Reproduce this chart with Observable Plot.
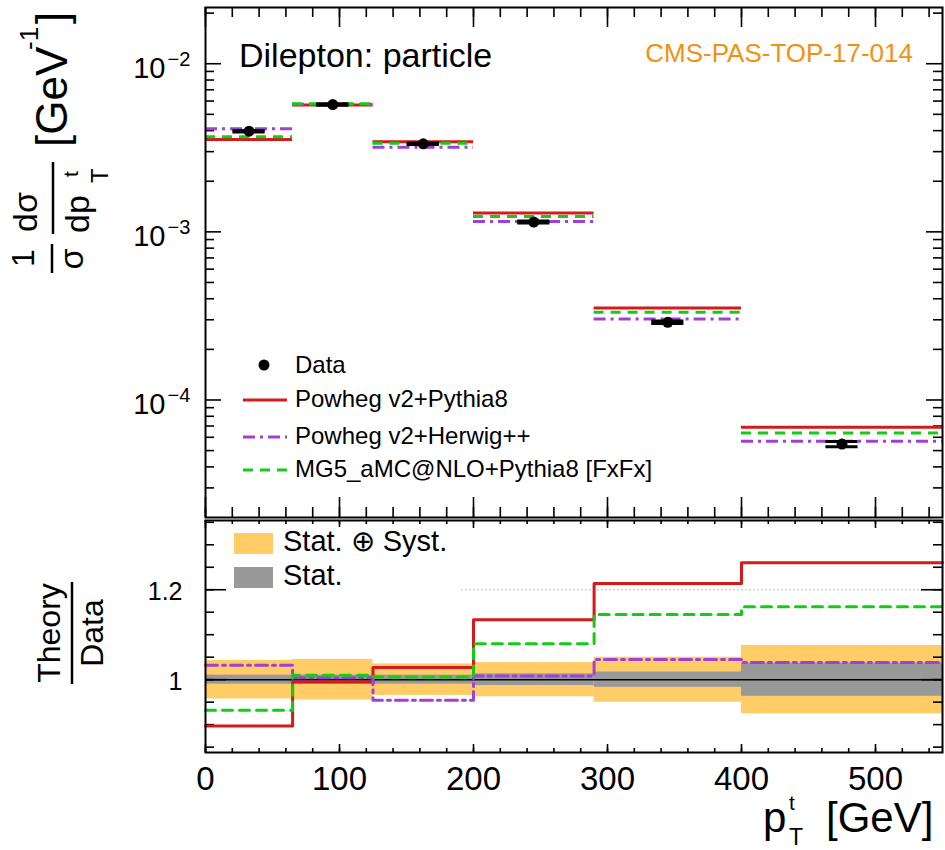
<!DOCTYPE html>
<html>
<head>
<meta charset="utf-8">
<script src="https://cdn.jsdelivr.net/npm/d3@7"></script>
<script src="https://cdn.jsdelivr.net/npm/@observablehq/plot@0.6"></script>
<style>
  html, body { margin: 0; padding: 0; background: white; }
  #wrap { position: relative; width: 945px; height: 850px; overflow: hidden; font-family: "Liberation Sans", Arial, Helvetica, sans-serif; }
  #upper, #lower, #overlay { position: absolute; left: 0; }
  #upper { top: 0; }
  #lower { top: 515px; }
  #overlay { top: 0; pointer-events: none; }
</style>
</head>
<body>
<div id="wrap">
  <div id="upper"></div>
  <div id="lower"></div>
  <svg id="overlay" width="945" height="850"></svg>
</div>
<script>
// ---------- data ----------
const binEdges = [0, 65, 125, 200, 290, 400, 550];
const dataValues     = [3.97e-3, 5.72e-3, 3.34e-3, 1.144e-3, 2.90e-4, 5.47e-5];
const powhegPythia8  = [3.54e-3, 5.69e-3, 3.43e-3, 1.296e-3, 3.52e-4, 6.89e-5];
const powhegHerwig   = [4.10e-3, 5.75e-3, 3.19e-3, 1.153e-3, 3.03e-4, 5.68e-5];
const mg5Pythia8     = [3.68e-3, 5.78e-3, 3.36e-3, 1.236e-3, 3.32e-4, 6.36e-5];
const ratioPowhegPythia8 = [0.897, 0.995, 1.027, 1.133, 1.214, 1.260];
const ratioPowhegHerwig  = [1.032, 1.004, 0.954, 1.008, 1.045, 1.038];
const ratioMg5Pythia8    = [0.932, 1.010, 1.006, 1.080, 1.145, 1.162];
const totalUnc = [0.043, 0.045, 0.035, 0.038, 0.050, 0.076];
const statUnc  = [0.010, 0.010, 0.010, 0.013, 0.017, 0.037];
const dataXErr = 12;

const xTickValues = [0, 100, 200, 300, 400, 500];
const xTickLabels = ["0", "100", "200", "300", "400", "500"];
const xMinorTicks = d3.range(0, 551, 20);
const yDecades = [1e-2, 1e-3, 1e-4];
const yDecadeExps = ["\u22122", "\u22123", "\u22124"];
const ratioTickValues = [1, 1.2];
const ratioTickLabels = ["1", "1.2"];
const ratioMinorTicks = d3.range(0.85, 1.351, 0.05);

// ---------- styles ----------
const RED = "#d41a1a", PURPLE = "#a040d8", GREEN = "#14cc14";
const ORANGE = "#ffcc66", GRAY = "#999999", CMSORANGE = "#f29111";
const DASH_GREEN = "10,7", DASH_PURPLE = "12,5,3,5";
const FONT = "'Liberation Sans', Arial, Helvetica, sans-serif";

const bins = dataValues.map((v, i) => ({
  lo: binEdges[i], hi: binEdges[i + 1], mid: (binEdges[i] + binEdges[i + 1]) / 2,
  data: v, pp: powhegPythia8[i], ph: powhegHerwig[i], mg: mg5Pythia8[i],
  tot: totalUnc[i], stat: statUnc[i]
}));
const stepPts = (vals) => binEdges.map((e, i) => ({x: e, y: vals[Math.min(i, vals.length - 1)]}));

const yMinor = [];
for (let p = -5; p <= -2; p++) for (let k = 2; k <= 9; k++) {
  const v = k * Math.pow(10, p);
  if (v > 2e-5 && v < 0.0216) yMinor.push(v);
}

// ---------- upper panel ----------
const W = 945;
const upInnerW = 737, upInnerH = 510;
const upper = Plot.plot({
  width: W, height: 520,
  marginLeft: 205, marginRight: 3, marginTop: 7, marginBottom: 3,
  x: {domain: [0, 550], axis: null},
  y: {type: "log", domain: [2e-5, 0.0216], axis: null},
  style: {fontFamily: FONT, background: "transparent", color: "black"},
  marks: [
    // ticks
    Plot.ruleX(xTickValues, {insetBottom: upInnerH - 20, stroke: "black", strokeWidth: 1.6}),
    Plot.ruleX(xTickValues, {insetTop: upInnerH - 20, stroke: "black", strokeWidth: 1.6}),
    Plot.ruleX(xMinorTicks, {insetBottom: upInnerH - 10, stroke: "black", strokeWidth: 1.6}),
    Plot.ruleX(xMinorTicks, {insetTop: upInnerH - 10, stroke: "black", strokeWidth: 1.6}),
    Plot.ruleY(yDecades, {insetRight: upInnerW - 16, stroke: "black", strokeWidth: 1.6}),
    Plot.ruleY(yDecades, {insetLeft: upInnerW - 16, stroke: "black", strokeWidth: 1.6}),
    Plot.ruleY(yMinor, {insetRight: upInnerW - 9, stroke: "black", strokeWidth: 1.6}),
    Plot.ruleY(yMinor, {insetLeft: upInnerW - 9, stroke: "black", strokeWidth: 1.6}),
    // tick labels
    Plot.text(yDecades, {y: d => d, frameAnchor: "left", text: () => "10", textAnchor: "end", dx: -40, dy: 5, fontSize: 29}),
    Plot.text(yDecades.map((d, i) => ({v: d, lab: yDecadeExps[i]})), {y: "v", frameAnchor: "left", text: "lab", textAnchor: "start", dx: -38, dy: -4, fontSize: 20}),
    // theory
    Plot.ruleY(bins, {y: "pp", x1: "lo", x2: "hi", stroke: RED, strokeWidth: 3}),
    Plot.ruleY(bins, {y: "ph", x1: "lo", x2: "hi", stroke: PURPLE, strokeWidth: 3, strokeDasharray: DASH_PURPLE}),
    Plot.ruleY(bins, {y: "mg", x1: "lo", x2: "hi", stroke: GREEN, strokeWidth: 3, strokeDasharray: DASH_GREEN}),
    // data
    Plot.ruleX(bins, {x: "mid", y1: d => d.data * (1 - d.stat), y2: d => d.data * (1 + d.stat), stroke: "black", strokeWidth: 2}),
    Plot.ruleY(bins, {y: d => d.data * (1 + d.stat), x1: d => d.mid - dataXErr, x2: d => d.mid + dataXErr, stroke: "black", strokeWidth: 3}),
    Plot.ruleY(bins, {y: d => d.data * (1 - d.stat), x1: d => d.mid - dataXErr, x2: d => d.mid + dataXErr, stroke: "black", strokeWidth: 3}),
    Plot.dot(bins, {x: "mid", y: "data", r: 5.5, fill: "black"}),
    Plot.frame({stroke: "black", strokeWidth: 2})
  ]
});
document.getElementById("upper").appendChild(upper);

// ---------- lower panel ----------
const loInnerW = 737, loInnerH = 232;
const lower = Plot.plot({
  width: W, height: 335,
  marginLeft: 205, marginRight: 3, marginTop: 5, marginBottom: 98,
  x: {domain: [0, 550], axis: null},
  y: {domain: [0.838, 1.354], axis: null},
  style: {fontFamily: FONT, background: "transparent", color: "black"},
  marks: [
    Plot.rect(bins, {x1: "lo", x2: "hi", y1: d => 1 - d.tot, y2: d => 1 + d.tot, fill: ORANGE}),
    Plot.rect(bins, {x1: "lo", x2: "hi", y1: d => 1 - d.stat, y2: d => 1 + d.stat, fill: GRAY}),
    Plot.ruleY([1], {stroke: "black", strokeWidth: 1.5}),
    Plot.ruleY([1.2], {stroke: "#c8c8c8", strokeWidth: 1.5, strokeDasharray: "1.5,2.5"}),
    // ticks
    Plot.ruleX(xTickValues, {insetBottom: loInnerH - 8, stroke: "black", strokeWidth: 1.6}),
    Plot.ruleX(xTickValues, {insetTop: loInnerH - 8, stroke: "black", strokeWidth: 1.6}),
    Plot.ruleX(xMinorTicks, {insetBottom: loInnerH - 4, stroke: "black", strokeWidth: 1.6}),
    Plot.ruleX(xMinorTicks, {insetTop: loInnerH - 4, stroke: "black", strokeWidth: 1.6}),
    Plot.ruleY(ratioTickValues, {insetRight: loInnerW - 21, stroke: "black", strokeWidth: 1.6}),
    Plot.ruleY(ratioTickValues, {insetLeft: loInnerW - 21, stroke: "black", strokeWidth: 1.6}),
    Plot.ruleY(ratioMinorTicks, {insetRight: loInnerW - 9, stroke: "black", strokeWidth: 1.6}),
    Plot.ruleY(ratioMinorTicks, {insetLeft: loInnerW - 9, stroke: "black", strokeWidth: 1.6}),
    // tick labels
    Plot.text(ratioTickValues.map((v, i) => ({v, lab: ratioTickLabels[i]})), {y: "v", frameAnchor: "left", text: "lab", textAnchor: "end", dx: -23, dy: 2, fontSize: 25}),
    Plot.text(xTickValues.map((v, i) => ({v, lab: xTickLabels[i]})), {x: "v", frameAnchor: "bottom", text: "lab", lineAnchor: "top", dy: 14, fontSize: 33}),
    // theory ratios
    Plot.line(stepPts(ratioPowhegPythia8), {x: "x", y: "y", curve: "step-after", stroke: RED, strokeWidth: 3}),
    Plot.line(stepPts(ratioPowhegHerwig), {x: "x", y: "y", curve: "step-after", stroke: PURPLE, strokeWidth: 3, strokeDasharray: DASH_PURPLE}),
    Plot.line(stepPts(ratioMg5Pythia8), {x: "x", y: "y", curve: "step-after", stroke: GREEN, strokeWidth: 3, strokeDasharray: DASH_GREEN}),
    Plot.frame({stroke: "black", strokeWidth: 2})
  ]
});
document.getElementById("lower").appendChild(lower);

// ---------- overlay: titles, legends, labels ----------
const ov = d3.select("#overlay").attr("font-family", FONT);

// Upper legend
const legItems = [
  {label: "Powheg v2+Pythia8", color: RED, dash: null, y: 400},
  {label: "Powheg v2+Herwig++", color: PURPLE, dash: DASH_PURPLE, y: 437},
  {label: "MG5_aMC@NLO+Pythia8 [FxFx]", color: GREEN, dash: DASH_GREEN, y: 470}
];
ov.append("circle").attr("cx", 264).attr("cy", 365).attr("r", 5.5).attr("fill", "black");
ov.append("text").attr("x", 295).attr("y", 373).attr("font-size", 24).text("Data");
legItems.forEach(it => {
  ov.append("line").attr("x1", 243).attr("x2", 287).attr("y1", it.y).attr("y2", it.y)
    .attr("stroke", it.color).attr("stroke-width", 3).attr("stroke-dasharray", it.dash);
  ov.append("text").attr("x", 295).attr("y", it.y + 7).attr("font-size", 24).text(it.label);
});

// Labels in the upper panel
ov.append("text").attr("x", 239).attr("y", 67).attr("font-size", 34).text("Dilepton: particle");
ov.append("text").attr("x", 913).attr("y", 62).attr("font-size", 26).attr("text-anchor", "end")
  .attr("fill", CMSORANGE).text("CMS-PAS-TOP-17-014");

// Lower legend
ov.append("rect").attr("x", 228).attr("y", 527).attr("width", 232).attr("height", 67).attr("fill", "white");
ov.append("rect").attr("x", 234).attr("y", 533).attr("width", 39).attr("height", 21).attr("fill", ORANGE);
ov.append("rect").attr("x", 234).attr("y", 567).attr("width", 39).attr("height", 21).attr("fill", GRAY);
ov.append("text").attr("x", 283).attr("y", 551).attr("font-size", 29).text("Stat. \u2295 Syst.");
ov.append("text").attr("x", 283).attr("y", 585).attr("font-size", 29).text("Stat.");

// X axis title
ov.append("text").attr("x", 763).attr("y", 832).attr("font-size", 42).text("p");
ov.append("text").attr("x", 789).attr("y", 810).attr("font-size", 21).text("t");
ov.append("text").attr("x", 789).attr("y", 845).attr("font-size", 23).text("T");
ov.append("text").attr("x", 826).attr("y", 832).attr("font-size", 42).text("[GeV]");

// Y axis title (upper), rotated: local (u, v) -> screen (v, 850 - u)
const gy = ov.append("g").attr("transform", "translate(0,850) rotate(-90)");
gy.append("text").attr("x", 592).attr("y", 34).attr("font-size", 32).attr("text-anchor", "middle").text("1");
gy.append("line").attr("x1", 577).attr("x2", 606).attr("y1", 52).attr("y2", 52).attr("stroke", "black").attr("stroke-width", 2.5);
gy.append("text").attr("x", 591).attr("y", 83).attr("font-size", 34).attr("text-anchor", "middle").text("\u03c3");
gy.append("text").attr("x", 638).attr("y", 37).attr("font-size", 34).attr("text-anchor", "middle").text("d\u03c3");
gy.append("line").attr("x1", 616).attr("x2", 688).attr("y1", 53).attr("y2", 53).attr("stroke", "black").attr("stroke-width", 2.5);
gy.append("text").attr("x", 617).attr("y", 89).attr("font-size", 34).text("dp");
gy.append("text").attr("x", 673).attr("y", 78).attr("font-size", 21).text("t");
gy.append("text").attr("x", 667).attr("y", 108).attr("font-size", 24).text("T");
gy.append("text").attr("x", 703).attr("y", 67).attr("font-size", 44).text("[GeV");
gy.append("text").attr("x", 800).attr("y", 38).attr("font-size", 26).text("-1");
gy.append("text").attr("x", 826).attr("y", 67).attr("font-size", 44).text("]");

// Y axis title (lower)
const gy2 = ov.append("g").attr("transform", "translate(0,850) rotate(-90)");
gy2.append("text").attr("x", 217).attr("y", 60).attr("font-size", 32).attr("text-anchor", "middle").text("Theory");
gy2.append("line").attr("x1", 166).attr("x2", 268).attr("y1", 72).attr("y2", 72).attr("stroke", "black").attr("stroke-width", 2.5);
gy2.append("text").attr("x", 217).attr("y", 103).attr("font-size", 32).attr("text-anchor", "middle").text("Data");
</script>
</body>
</html>
